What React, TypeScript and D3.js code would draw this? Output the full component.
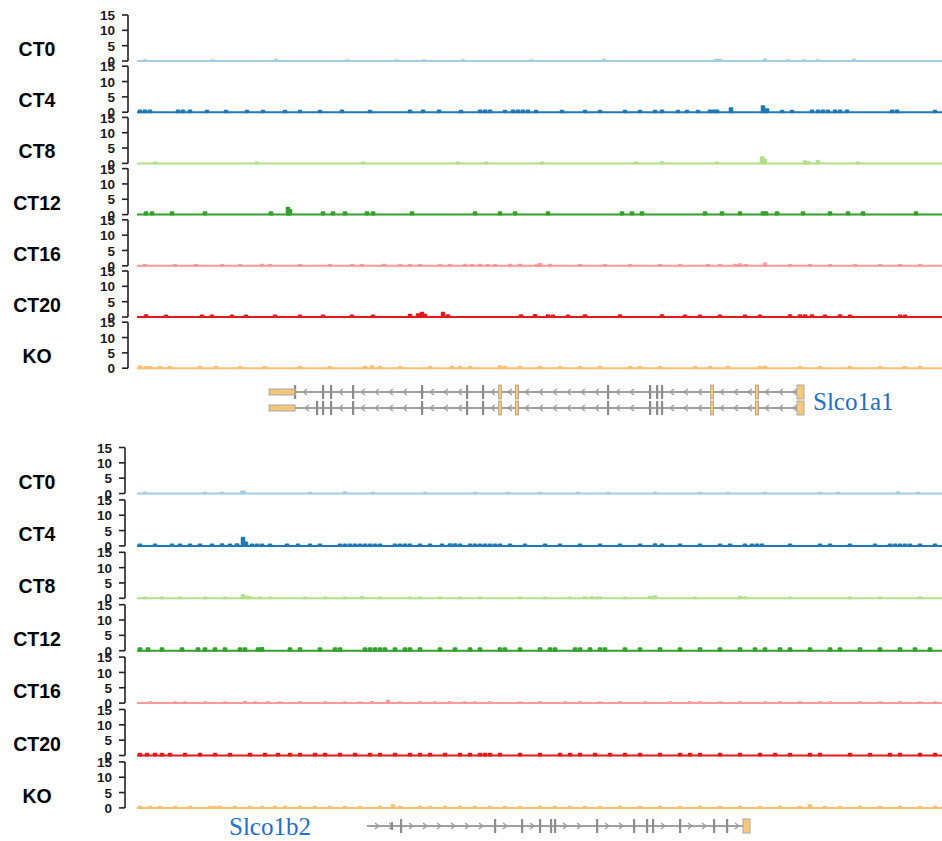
import React from "react";
import * as d3 from "d3";

// ---------- data (positions in window units 0..805, heights in signal units) ----------
const tracks = ["CT0", "CT4", "CT8", "CT12", "CT16", "CT20", "KO"];
const colors = ["#a6cee3", "#1f78b4", "#b2df8a", "#33a02c", "#fb9a99", "#e31a1c", "#fdbf6f"];
const yTicks = [0, 5, 10, 15];

type Peak = [number, number, number?];

const topCT0: Peak[] = [[8,0.6],[76,0.6],[139,0.7],[210,0.6],[260,0.6],[287,0.6],[326,0.6],[394,0.6],[467,0.7],[581,0.7,8],[628,0.8],[651,0.6],[667,0.6],[681,0.6],[717,0.7]];
const topCT4: Peak[] = [[3,0.9],[8,0.9],[13,0.9],[41,0.9],[46,0.9],[53,0.9],[70,0.8],[89,0.8],[110,0.8],[126,0.8],[148,0.8],[163,0.8],[183,0.8],[205,0.9],[233,0.8],[273,0.9],[286,0.9],[302,0.9],[324,0.8],[343,0.9],[348,0.9],[353,0.9],[368,0.8],[376,0.9],[381,0.9],[386,0.9],[391,0.9],[399,0.8],[425,0.8],[448,0.8],[463,0.8],[488,0.8],[503,0.8],[518,0.8],[525,0.9],[541,0.8],[550,0.8],[561,0.8],[573,0.9],[577,0.9],[580,0.9],[594,1.6],[626,2.3],[630,1.3],[645,0.8],[655,0.8],[675,0.9],[681,0.9],[686,0.9],[691,0.9],[698,0.9],[703,0.9],[710,0.9],[755,0.9],[760,0.9],[798,0.8]];
const topCT8: Peak[] = [[18,0.6],[120,0.6],[226,0.6],[321,0.6],[349,0.6],[405,0.6],[499,0.6],[525,0.7],[580,0.6],[625,2.3],[628,1.6],[668,1.0],[671,0.8],[681,1.1],[721,0.6]];
const topCT12: Peak[] = [[9,1.1],[15,1.1],[35,1.1],[68,1.1],[134,1.1],[151,2.6],[153,1.8],[186,1.1],[196,1.1],[208,1.1],[230,1.1],[236,1.1],[275,1.1],[338,1.1],[363,1.1],[378,1.1],[411,1.1],[485,1.1],[495,1.1],[505,1.1],[568,1.1],[585,1.1],[603,1.1],[626,1.1],[629,1.1],[640,1.1],[666,1.1],[693,1.1],[711,1.1],[726,1.1],[779,1.1]];
const topCT16: Peak[] = [[8,0.6],[38,0.6],[59,0.6],[85,0.6],[103,0.6],[125,0.7],[133,0.6],[163,0.6],[193,0.6],[215,0.6],[225,0.6],[247,0.7],[263,0.6],[273,0.6],[283,0.6],[303,0.6],[313,0.6],[328,0.7],[335,0.6],[343,0.7],[351,0.6],[358,0.6],[373,0.7],[383,0.7],[400,0.7],[403,0.9],[413,0.7],[443,0.6],[468,0.6],[493,0.6],[523,0.6],[543,0.6],[571,0.6],[583,0.6],[598,0.7],[603,0.8],[609,0.6],[628,1.1],[653,0.6],[673,0.6],[693,0.6],[718,0.6],[743,0.6],[763,0.6],[783,0.6]];
const topCT20: Peak[] = [[9,0.9],[29,0.8],[65,0.8],[75,0.8],[95,0.8],[109,0.8],[138,0.8],[163,0.8],[186,0.8],[215,0.8],[236,0.8],[273,1.1],[281,1.2],[285,1.7],[288,1.1],[306,1.7],[311,0.9],[384,0.9],[398,1.0],[411,0.9],[416,0.8],[431,0.8],[448,0.9],[483,0.9],[525,0.9],[548,0.8],[563,0.8],[583,0.8],[608,0.8],[623,0.8],[653,0.9],[663,0.9],[668,0.9],[675,0.9],[688,0.8],[703,0.9],[713,0.8],[763,0.8],[768,0.8]];
const topKO: Peak[] = [[3,1.0],[9,0.7],[13,0.7],[23,0.7],[33,0.7],[63,0.7],[79,0.7],[103,0.7],[128,0.7],[163,0.7],[193,0.7],[228,0.8],[235,1.0],[243,0.7],[263,0.7],[293,0.7],[315,0.8],[323,0.7],[333,0.7],[363,1.0],[368,0.8],[383,0.7],[403,0.7],[423,0.7],[443,0.7],[463,0.7],[493,0.7],[503,0.7],[523,0.7],[558,0.7],[573,0.7],[591,0.7],[623,0.7],[628,0.8],[663,0.7],[683,0.7],[713,0.7],[743,0.7],[768,0.7],[783,0.7]];

const botCT0: Peak[] = [[8,0.6],[68,0.6],[85,0.6],[106,1.0,6],[173,0.6],[208,0.7],[236,0.6],[288,0.6],[338,0.6],[371,0.6],[403,0.6],[441,0.6],[471,0.6],[518,0.6],[563,0.6],[591,0.6],[628,0.6],[683,0.6],[701,0.6],[761,0.7],[781,0.6]];
const botCT4: Peak[] = [[3,0.8],[18,0.8],[35,0.8],[43,0.8],[53,0.8],[63,0.8],[75,0.8],[85,0.9],[93,0.8],[100,0.9],[106,3.0],[109,1.4],[115,0.8],[120,0.8],[125,0.8],[133,0.8],[150,0.8],[161,0.8],[173,0.8],[183,0.8],[203,0.8],[208,0.8],[213,0.8],[218,0.8],[223,0.8],[228,0.8],[233,0.8],[238,0.8],[243,0.8],[258,0.8],[263,0.8],[268,0.8],[273,0.8],[283,0.8],[293,0.8],[305,0.8],[313,0.9],[318,0.9],[323,0.8],[333,0.8],[338,0.8],[343,0.8],[348,0.8],[353,0.8],[358,0.8],[363,0.8],[373,0.8],[388,0.8],[408,0.8],[423,0.8],[443,0.8],[463,0.8],[483,0.8],[503,0.8],[518,0.9],[525,0.8],[543,0.8],[563,0.8],[583,0.8],[593,0.8],[608,0.8],[615,0.8],[620,0.8],[625,0.8],[653,0.8],[683,0.8],[693,0.8],[713,0.8],[738,0.8],[753,0.8],[758,0.8],[763,0.8],[768,0.8],[773,0.8],[783,0.8],[798,0.8]];
const botCT8: Peak[] = [[8,0.6],[25,0.6],[43,0.6],[68,0.6],[88,0.6],[106,1.4],[110,0.8],[113,0.7],[123,0.6],[133,0.6],[168,0.6],[188,0.6],[208,0.6],[225,0.8],[243,0.6],[273,0.6],[283,0.6],[303,0.6],[323,0.6],[343,0.6],[383,0.6],[408,0.6],[433,0.6],[448,0.7],[455,0.7],[460,0.6],[463,0.7],[488,0.6],[513,0.8],[518,1.0],[558,0.6],[603,0.8],[608,0.7],[653,0.6],[713,0.6],[743,0.6],[783,0.7]];
const botCT12: Peak[] = [[3,1.1],[11,1.1],[25,1.1],[45,1.1],[61,1.1],[68,1.1],[78,1.1],[88,1.1],[103,1.1],[108,1.1],[121,1.1],[125,1.2],[153,1.1],[163,1.1],[183,1.1],[198,1.1],[203,1.1],[228,1.1],[233,1.1],[238,1.1],[243,1.1],[248,1.1],[258,1.1],[268,1.1],[273,1.1],[283,1.1],[303,1.1],[318,1.1],[333,1.1],[343,1.1],[363,1.1],[368,1.1],[383,1.1],[403,1.1],[413,1.1],[418,1.1],[438,1.1],[443,1.1],[453,1.1],[463,1.1],[468,1.1],[488,1.1],[503,1.1],[523,1.1],[543,1.1],[563,1.1],[583,1.1],[603,1.1],[618,1.1],[628,1.1],[643,1.1],[653,1.1],[673,1.1],[693,1.1],[703,1.1],[723,1.1],[743,1.1],[763,1.1],[778,1.1],[793,1.1]];
const botCT16: Peak[] = [[13,0.6],[38,0.6],[48,0.6],[68,0.6],[88,0.6],[108,0.7],[118,0.6],[131,0.6],[143,0.6],[163,0.6],[188,0.6],[208,0.6],[223,0.6],[235,0.7],[251,1.1],[263,0.6],[283,0.6],[298,0.6],[313,0.6],[328,0.6],[338,0.6],[353,0.6],[383,0.6],[403,0.6],[428,0.6],[443,0.6],[463,0.6],[483,0.6],[508,0.6],[533,0.6],[553,0.6],[563,0.6],[583,0.6],[603,0.6],[628,0.6],[643,0.6],[663,0.7],[683,0.6],[693,0.6],[723,0.6],[743,0.6],[763,0.6],[783,0.6],[798,0.6]];
const botCT20: Peak[] = [[3,0.9],[10,0.9],[18,0.9],[25,0.9],[33,0.9],[48,0.9],[63,0.9],[78,0.9],[93,0.9],[113,0.9],[128,0.9],[141,0.9],[153,0.9],[163,0.9],[178,0.9],[188,0.9],[203,0.9],[218,0.9],[233,0.9],[243,0.9],[258,0.9],[273,0.9],[283,0.9],[293,0.9],[308,0.9],[323,0.9],[333,0.9],[343,0.9],[348,0.9],[353,0.9],[363,0.9],[383,0.9],[403,0.9],[423,0.9],[433,0.9],[443,0.9],[458,0.9],[473,0.9],[488,0.9],[503,0.9],[523,0.9],[543,0.9],[553,0.9],[563,0.9],[583,0.9],[603,0.9],[623,0.9],[638,0.9],[653,0.9],[673,0.9],[683,0.9],[713,0.9],[733,0.9],[753,0.9],[763,0.9],[783,0.9],[798,0.9]];
const botKO: Peak[] = [[3,0.7],[13,0.7],[23,0.7],[38,0.7],[53,0.7],[73,0.7],[78,0.7],[83,0.7],[98,0.7],[113,0.7],[125,0.7],[138,0.7],[148,0.7],[163,0.7],[178,0.7],[193,0.7],[208,0.7],[223,0.7],[243,0.7],[256,1.2],[263,0.7],[283,0.7],[293,0.7],[308,0.7],[323,0.7],[338,0.7],[353,0.7],[368,0.7],[383,0.7],[403,0.7],[418,0.7],[433,0.7],[448,0.7],[463,0.7],[483,0.7],[503,0.7],[523,0.7],[543,0.7],[563,0.7],[583,0.7],[603,0.7],[623,0.7],[643,0.7],[663,0.7],[673,1.2],[688,0.7],[703,0.7],[723,0.7],[743,0.7],[763,0.7],[783,0.7],[798,0.7]];

const topData = [topCT0, topCT4, topCT8, topCT12, topCT16, topCT20, topKO];
const botData = [botCT0, botCT4, botCT8, botCT12, botCT16, botCT20, botKO];

// gene models (same window units)
const slco1a1Name = "Slco1a1";
const slco1a1Span: [number, number] = [132, 667];
const slco1a1UpperExons = [158, 186, 194, 216, 285, 330, 346, 471, 513, 520, 525];
const slco1a1LowerExons = [180, 186, 194, 216, 285, 330, 346, 471, 513, 520, 525];
const slco1a1CodingExons = [363, 380, 575, 620];
const slco1a1Utr5: [number, number] = [132, 158];
const slco1a1Utr3: [number, number] = [660, 667];

const slco1b2Name = "Slco1b2";
const slco1b2Span: [number, number] = [230, 613];
const slco1b2Exons = [264, 358, 385, 403, 414, 418, 460, 497, 510, 516, 543, 577, 590];
const slco1b2SmallExons = [255];
const slco1b2Utr3: [number, number] = [606, 613];

// ---------- layout ----------
const W = 942, H = 841;
const x = d3.scaleLinear().domain([0, 805]).range([137, 942]);

const panels = [
  { data: topData, base0: 61, step: 51.2, axisX: 128 },
  { data: botData, base0: 493.5, step: 52.4, axisX: 125 },
];

function Track({ peaks, base, color, axisX, label }: any) {
  const y = d3.scaleLinear().domain([0, 15]).range([base, base - 46]);
  return (
    <g>
      <text x={37} y={base - 5} textAnchor="middle" fontFamily="Liberation Sans, Arial, sans-serif" fontWeight="bold" fontSize={19.5} fill="#000">{label}</text>
      <line x1={axisX} x2={axisX} y1={y(15)} y2={y(0)} stroke="#222" strokeWidth={1.6} />
      {yTicks.map((t) => (
        <g key={t}>
          <line x1={axisX - 6} x2={axisX} y1={y(t)} y2={y(t)} stroke="#222" strokeWidth={1.6} />
          <text x={axisX - 13} y={y(t)} dy="0.38em" textAnchor="end" fontFamily="Liberation Sans, Arial, sans-serif" fontWeight="bold" fontSize={13.5} fill="#1a1a1a">{t}</text>
        </g>
      ))}
      <line x1={x(0)} x2={x(805)} y1={base} y2={base} stroke={color} strokeWidth={2} />
      {peaks.map((p: Peak, i: number) => {
        const w = p[2] ?? 4.5;
        return (
          <rect key={i} x={x(p[0] - w / 2)} width={x(w) - x(0)} y={y(p[1])} height={y(0) - y(p[1]) + 1} rx={1} fill={color} />
        );
      })}
    </g>
  );
}

function chevrons(exons: number[], span: [number, number], dir: number, cy: number, key: string) {
  const stops = [span[0], ...exons, span[1]].sort((a, b) => a - b);
  const out: any[] = [];
  for (let i = 0; i < stops.length - 1; i++) {
    const a = x(stops[i]) + 6, b = x(stops[i + 1]) - 6;
    for (let px = a + 4; px < b; px += 14) {
      out.push(
        <path key={key + i + "_" + px} d={`M${px - 2 * dir},${cy - 3} L${px + 2 * dir},${cy} L${px - 2 * dir},${cy + 3}`} fill="none" stroke="#9a9a9a" strokeWidth={1.2} />
      );
    }
  }
  return out;
}

function Transcript({ cy, exons, span, utr5, utr3, coding, dir, smallExons }: any) {
  return (
    <g>
      <line x1={x(span[0])} x2={x(span[1])} y1={cy} y2={cy} stroke="#a0a0a0" strokeWidth={2} />
      {chevrons([...exons, ...(coding || [])], span, dir, cy, "c" + cy)}
      {exons.map((e: number, i: number) => (
        <rect key={"e" + i} x={x(e) - 1} width={2.2} y={cy - 7} height={14} fill="#8c8c8c" />
      ))}
      {(smallExons || []).map((e: number, i: number) => (
        <rect key={"s" + i} x={x(e) - 1} width={2} y={cy - 4} height={8} fill="#8c8c8c" />
      ))}
      {(coding || []).map((e: number, i: number) => (
        <rect key={"o" + i} x={x(e) - 1.5} width={3} y={cy - 7} height={14} fill="#f6c77c" stroke="#b0a080" strokeWidth={0.8} />
      ))}
      {utr5 && (
        <rect x={x(utr5[0])} width={x(utr5[1]) - x(utr5[0])} y={cy - 3} height={6} fill="#f3c47c" stroke="#a8a8a8" strokeWidth={1} />
      )}
      {utr3 && (
        <rect x={x(utr3[0])} width={x(utr3[1]) - x(utr3[0])} y={cy - 7} height={14} fill="#f8c878" stroke="#a8a8a8" strokeWidth={1} />
      )}
    </g>
  );
}

export default function App() {
  return (
    <svg width={W} height={H} style={{ position: "absolute", left: 0, top: 0, background: "#fff" }}>
      <rect width={W} height={H} fill="#fff" />
      {panels.map((pn, pi) => (
        <g key={pi}>
          {tracks.map((t, i) => (
            <Track key={t} label={t} peaks={pn.data[i]} base={pn.base0 + i * pn.step} color={colors[i]} axisX={pn.axisX} />
          ))}
        </g>
      ))}
      {/* Slco1a1 (minus strand, two transcripts) */}
      <Transcript cy={392} exons={slco1a1UpperExons} span={slco1a1Span} utr5={slco1a1Utr5} utr3={slco1a1Utr3} coding={slco1a1CodingExons} dir={-1} />
      <Transcript cy={408} exons={slco1a1LowerExons} span={slco1a1Span} utr5={slco1a1Utr5} utr3={slco1a1Utr3} coding={slco1a1CodingExons} dir={-1} />
      <text x={813} y={410} fontFamily="Liberation Serif, Times New Roman, serif" fontSize={25} fill="#1f6fc5">{slco1a1Name}</text>
      {/* Slco1b2 (plus strand) */}
      <Transcript cy={826} exons={slco1b2Exons} span={slco1b2Span} utr3={slco1b2Utr3} smallExons={slco1b2SmallExons} dir={1} />
      <text x={229} y={835} fontFamily="Liberation Serif, Times New Roman, serif" fontSize={25} fill="#1f6fc5">{slco1b2Name}</text>
    </svg>
  );
}
